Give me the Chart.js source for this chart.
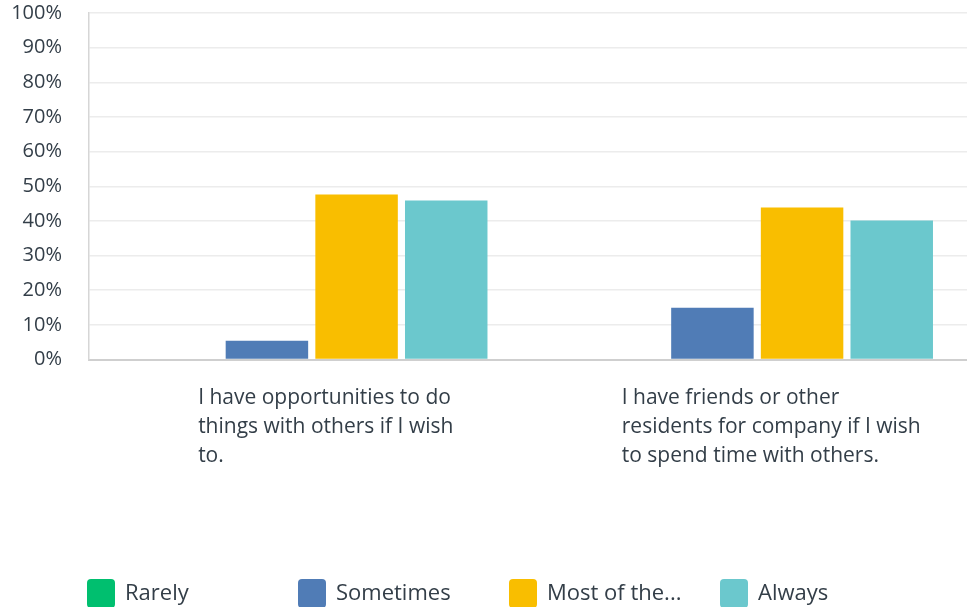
<!DOCTYPE html>
<html>
<head>
  <title>Social opportunities</title>
  <script src="https://cdn.jsdelivr.net/npm/chart.js"></script>
  <style>
    html, body { margin: 0; padding: 0; overflow: hidden; background: #fff; }
  </style>
</head>
<body>
  <canvas id="chart" width="980" height="607"></canvas>

  <script>
    let categories = [
      ["I have opportunities to do", "things with others if I wish", "to."],
      ["I have friends or other", "residents for company if I wish", "to spend time with others."]
    ];
    let seriesNames = ["Rarely", "Sometimes", "Most of the...", "Always"];
    let seriesColors = ["#00bf6f", "#507cb6", "#f9be00", "#6bc8cd"];
    let rarely = [0, 0];
    let sometimes = [5.4, 14.9];
    let mostOfTheTime = [47.6, 43.9];
    let always = [45.9, 40.1];
    let yTicks = [0, 10, 20, 30, 40, 50, 60, 70, 80, 90, 100];

    let textColor = "#333e48";
    let fontFamily = '"Open Sans", sans-serif';

    // category labels: lines left aligned, block roughly centred under the group
    let xLabelPlugin = {
      id: "xLabels",
      afterDraw(chart) {
        let ctx = chart.ctx;
        let xs = chart.scales.x;
        ctx.save();
        ctx.font = "21px " + fontFamily;
        ctx.fillStyle = textColor;
        ctx.textAlign = "left";
        ctx.textBaseline = "middle";
        categories.forEach((lines, i) => {
          let cx = xs.getPixelForValue(i);
          let w = Math.max(...lines.map(l => ctx.measureText(l).width));
          let left = cx + 14 - w / 2;
          lines.forEach((line, j) => {
            ctx.fillText(line, left, xs.top + 38.5 + j * 29);
          });
        });
        ctx.restore();
      }
    };

    // evenly spaced legend along the bottom
    let legendPlugin = {
      id: "bottomLegend",
      afterDraw(chart) {
        let ctx = chart.ctx;
        let cy = chart.height - 13;
        ctx.save();
        ctx.font = "22px " + fontFamily;
        ctx.textBaseline = "middle";
        ctx.textAlign = "left";
        chart.data.datasets.forEach((ds, i) => {
          let x = 87 + i * 211;
          ctx.fillStyle = ds.backgroundColor;
          ctx.beginPath();
          ctx.roundRect(x, cy - 15, 28, 29, 4);
          ctx.fill();
          ctx.fillStyle = textColor;
          ctx.fillText(ds.label, x + 38, cy);
        });
        ctx.restore();
      }
    };

    let seriesValues = [rarely, sometimes, mostOfTheTime, always];

    new Chart(document.getElementById("chart"), {
      type: "bar",
      data: {
        labels: categories,
        datasets: seriesNames.map((name, i) => ({
          label: name,
          data: seriesValues[i],
          backgroundColor: seriesColors[i],
          borderWidth: 0,
          categoryPercentage: 0.805,
          barPercentage: 0.92
        }))
      },
      options: {
        responsive: false,
        animation: false,
        layout: { padding: { top: 13, right: 0, bottom: 0, left: 0 } },
        plugins: {
          legend: { display: false },
          tooltip: { enabled: false }
        },
        scales: {
          x: {
            grid: { display: false, drawTicks: false },
            border: { color: "#cfcfcf", width: 2 },
            ticks: { display: false },
            afterFit(scale) { scale.height = 247.5; }
          },
          y: {
            min: 0,
            max: 100,
            afterBuildTicks(scale) { scale.ticks = yTicks.map(v => ({ value: v })); },
            grid: {
              color: ctx => ctx.tick && ctx.tick.value === 0 ? "#cfcfcf" : "#ececec",
              lineWidth: 1.5,
              drawTicks: true,
              tickLength: 27,
              tickColor: "rgba(0,0,0,0)"
            },
            border: { color: "#d6d6d6", width: 1.5 },
            ticks: {
              color: textColor,
              font: { family: fontFamily, size: 20 },
              padding: 0,
              callback: v => v + "%"
            },
            afterFit(scale) { scale.width = 89; }
          }
        }
      },
      plugins: [xLabelPlugin, legendPlugin]
    });
  </script>
</body>
</html>
